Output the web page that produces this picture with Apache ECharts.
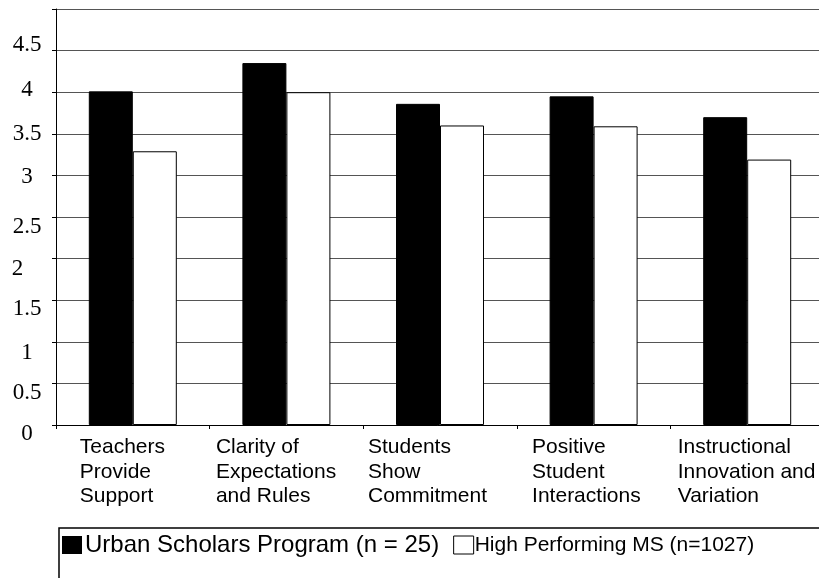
<!DOCTYPE html>
<html>
<head>
<meta charset="utf-8">
<script src="https://cdn.jsdelivr.net/npm/echarts@6/dist/echarts.min.js"></script>
<style>
html,body{margin:0;padding:0;background:#fff;}
#chart{width:819px;height:578px;}
</style>
</head>
<body>
<div id="chart"></div>
<script>
var categories = [
  "Teachers\nProvide\nSupport",
  "Clarity of\nExpectations\nand Rules",
  "Students\nShow\nCommitment",
  "Positive\nStudent\nInteractions",
  "Instructional\nInnovation and\nVariation"
];
var seriesNames = ["Urban Scholars Program (n = 25)", "High Performing MS (n=1027)"];
var urbanScholars = [4.01, 4.35, 3.86, 3.95, 3.70];
var highPerforming = [3.29, 4.00, 3.60, 3.59, 3.19];
var yTickLabels = ["0", "0.5", "1", "1.5", "2", "2.5", "3", "3.5", "4", "4.5", ""];

// per-label vertical nudges (matching original rendering)
var yLabelStyle = {"4.5":"u6","4":"u2","3.5":"n","3":"d2","2.5":"d10","2":"d10l","1.5":"d9","1":"d11","0.5":"d10","0":"d9"};
var xLabelWidths = [106, 141, 144, 123, 139];

var chart = echarts.init(document.getElementById('chart'), null, {renderer:'canvas'});

var xRich = {};
xLabelWidths.forEach(function(w, i){
  xRich['c' + i] = {width: w, align: 'left', fontFamily: 'Liberation Sans, Arial, sans-serif', fontSize: 21, lineHeight: 24.5, color: '#000'};
});

var serifFont = 'Liberation Serif, Times New Roman, serif';
function yr(pad){ return {fontFamily: serifFont, fontSize: 23, color:'#000', padding: pad}; }

var option = {
  backgroundColor: '#fff',
  animation: false,
  grid: {left: 56, top: 9, width: 768, bottom: 153, containLabel: false, outerBoundsMode: 'none'},
  legend: {
    left: 59, top: 528, width: 1400,
    padding: [5, 400, 40, 3],
    borderColor: '#000', borderWidth: 1.5,
    itemWidth: 20, itemHeight: 18, itemGap: 14,
    selectedMode: false,
    data: [
      {name: seriesNames[0], icon: 'rect', itemStyle: {color: '#000', borderWidth: 0},
       textStyle: {fontFamily: 'Liberation Sans, Arial, sans-serif', fontSize: 24, color: '#000', padding: [0,0,4,-2]}},
      {name: seriesNames[1], icon: 'rect', itemStyle: {color: '#fff', borderColor: '#000', borderWidth: 1},
       textStyle: {fontFamily: 'Liberation Sans, Arial, sans-serif', fontSize: 21, color: '#000', padding: [0,0,4,-4]}}
    ]
  },
  xAxis: {
    type: 'category',
    data: categories,
    axisLine: {lineStyle: {color: '#000', width: 1}},
    axisTick: {show: true, length: 4, lineStyle: {color: '#000'}},
    axisLabel: {
      interval: 0, margin: 10, align: 'center', verticalAlign: 'top',
      formatter: function(v, i){
        return v.split('\n').map(function(l){ return '{c' + i + '|' + l + '}'; }).join('\n');
      },
      rich: xRich
    }
  },
  yAxis: {
    type: 'value', min: 0, max: 5, interval: 0.5,
    axisLine: {show: true, lineStyle: {color: '#000', width: 1}},
    axisTick: {show: true, length: 4, lineStyle: {color: '#000'}},
    splitLine: {show: true, lineStyle: {color: '#555', width: 1}},
    axisLabel: {
      margin: 29, align: 'center',
      formatter: function(v){
        var idx = Math.round(v / 0.5);
        var t = yTickLabels[idx];
        if (!t) return '';
        return '{' + yLabelStyle[t] + '|' + t + '}';
      },
      rich: {
        u6: yr([0,0,12,0]), u2: yr([0,0,4,0]), n: yr([0,0,0,0]), d2: yr([4,0,0,0]),
        d10: yr([20,0,0,0]), d10l: yr([20,19,0,0]), d9: yr([18,0,0,0]), d11: yr([22,0,0,0])
      }
    }
  },
  series: [
    {name: seriesNames[0], type: 'bar', data: urbanScholars, barWidth: 44, barGap: '0%',
     itemStyle: {color: '#000', borderColor: '#000', borderWidth: 1}},
    {name: seriesNames[1], type: 'bar', data: highPerforming, barWidth: 44, barGap: '0%',
     itemStyle: {color: '#fff', borderColor: '#000', borderWidth: 1}}
  ]
};
chart.setOption(option);
</script>
</body>
</html>
